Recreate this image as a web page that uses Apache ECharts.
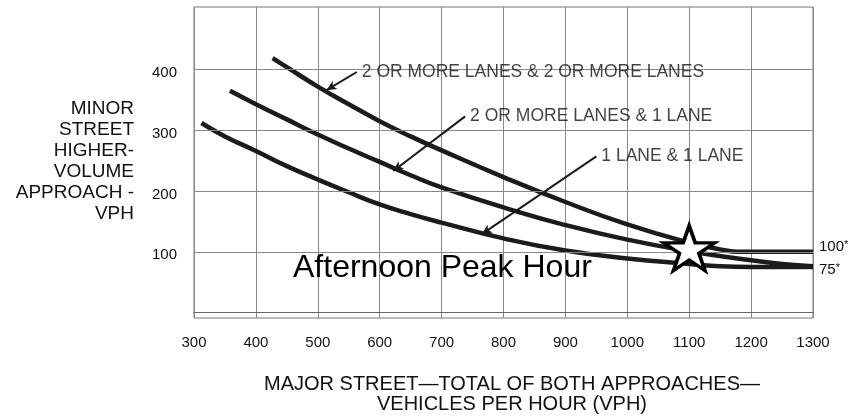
<!DOCTYPE html>
<html>
<head>
<meta charset="utf-8">
<script src="https://cdn.jsdelivr.net/npm/echarts@6/dist/echarts.min.js"></script>
<style>
  html, body { margin: 0; padding: 0; background: #fff; }
  #chart { width: 853px; height: 418px; }
</style>
</head>
<body>
<div id="chart"></div>
<script>
// Peak-hour warrant curves: major street total (vph) vs minor street higher-volume approach (vph)
const xTicks = [300, 400, 500, 600, 700, 800, 900, 1000, 1100, 1200, 1300];
const yTicks = [100, 200, 300, 400];

const twoOrMoreAndTwoOrMore = [
  [427, 419], [450, 404], [500, 372], [550, 343], [600, 315], [650, 290], [700, 267],
  [800, 223], [900, 182], [1000, 145], [1100, 115], [1150, 104], [1180, 100], [1250, 100], [1300, 100]
];
const twoOrMoreAndOne = [
  [358, 365], [400, 343], [450, 318], [500, 293], [550, 270], [600, 248], [650, 226],
  [700, 206], [800, 173], [900, 144], [1000, 120], [1100, 101], [1200, 86], [1250, 80], [1300, 76]
];
const oneAndOne = [
  [312, 312], [350, 290], [400, 266], [450, 241], [500, 219], [550, 198], [600, 178],
  [650, 162], [700, 148], [800, 122], [900, 102], [1000, 89], [1100, 80], [1150, 76], [1200, 75], [1300, 75]
];

// Studied afternoon peak-hour volume
const peakHourPoint = [[1100, 106]];

// Curve captions: text anchor (line start) and arrow tip on the curve
const captionNames = ['2 OR MORE LANES & 2 OR MORE LANES', '2 OR MORE LANES & 1 LANE', '1 LANE & 1 LANE'];
const captionAnchors = [[563, 396], [738, 323], [950, 257]];
const captionTips = [[514, 366], [622, 233], [765, 129]];

const FONT = '"Liberation Sans", Arial, Helvetica, sans-serif';
const INK = '#1b1b1b';
const TEXT = '#111';

const STAR = 'path://M50,0 L61.23,34.55 L97.55,34.55 L68.17,55.9 L79.39,90.45 L50,69.1 L20.61,90.45 L31.83,55.9 L2.45,34.55 L38.77,34.55 Z';

function curve(name, data, endText, endOffset) {
  return {
    name: name,
    type: 'line',
    data: data,
    smooth: 0.5,
    showSymbol: false,
    symbol: 'none',
    z: 4,
    lineStyle: { color: INK, width: 4.5 },
    endLabel: endText ? {
      show: true,
      formatter: endText,
      distance: 6,
      offset: endOffset,
      color: TEXT,
      fontFamily: FONT,
      fontSize: 15,
      rich: { s: { fontSize: 11, verticalAlign: 'top', lineHeight: 10, fontFamily: FONT, color: TEXT } }
    } : { show: false },
    silent: true
  };
}

const chart = echarts.init(document.getElementById('chart'), null, { renderer: 'canvas' });

chart.setOption({
  animation: false,
  backgroundColor: '#fff',
  grid: {
    left: 194, right: 40, top: 7, bottom: 100,
    show: true, borderColor: '#777', borderWidth: 1, backgroundColor: 'transparent'
  },
  xAxis: {
    type: 'value',
    min: xTicks[0],
    max: xTicks[xTicks.length - 1],
    interval: 100,
    axisLine: { show: true, lineStyle: { color: '#666', width: 1 } },
    axisTick: { show: false },
    axisLabel: { color: TEXT, fontFamily: FONT, fontSize: 15, margin: 17, formatter: v => String(v) },
    splitLine: { show: true, lineStyle: { color: '#888', width: 1 } }
  },
  yAxis: {
    type: 'value',
    min: -9,
    max: 503,
    axisLine: { show: true, lineStyle: { color: '#888', width: 1 } },
    axisTick: { show: false },
    splitLine: { show: false },
    axisLabel: {
      color: TEXT, fontFamily: FONT, fontSize: 15, margin: 17,
      verticalAlign: 'top', lineHeight: 7,
      formatter: v => (yTicks.indexOf(v) >= 0 ? String(v) : '')
    }
  },
  graphic: [
    {
      type: 'text',
      x: 134, y: 161,
      style: {
        text: 'MINOR\nSTREET\nHIGHER-\nVOLUME\nAPPROACH -\nVPH',
        align: 'right', verticalAlign: 'middle',
        font: '19px ' + FONT, lineHeight: 21, fill: TEXT
      }
    },
    {
      type: 'text',
      x: 512, y: 394,
      style: {
        text: 'MAJOR STREET\u2014TOTAL OF BOTH APPROACHES\u2014\nVEHICLES PER HOUR (VPH)',
        align: 'center', verticalAlign: 'middle',
        font: '20px ' + FONT, lineHeight: 20, fill: TEXT
      }
    },
    {
      type: 'text',
      x: 293, y: 268,
      z: 10,
      style: {
        text: 'Afternoon Peak Hour',
        align: 'left', verticalAlign: 'middle',
        font: '32px ' + FONT, fill: '#000'
      }
    }
  ],
  series: [
    {
      // horizontal reference lines at the labelled minor-street volumes
      type: 'line',
      data: [],
      z: 1,
      silent: true,
      markLine: {
        silent: true,
        symbol: 'none',
        animation: false,
        label: { show: false },
        lineStyle: { color: '#888', width: 1, type: 'solid' },
        data: yTicks.map(v => ({ yAxis: v }))
      }
    },
    curve('2 OR MORE LANES & 2 OR MORE LANES', twoOrMoreAndTwoOrMore, '100{s|*}', [0, -5]),
    curve('2 OR MORE LANES & 1 LANE', twoOrMoreAndOne, null, null),
    curve('1 LANE & 1 LANE', oneAndOne, '75{s|*}', [0, 3]),
    {
      // leader arrows from each caption to its curve
      type: 'line',
      data: [],
      z: 5,
      silent: true,
      markLine: {
        silent: true,
        animation: false,
        symbol: ['none', 'arrow'],
        symbolSize: [7, 10],
        label: { show: false },
        lineStyle: { color: INK, width: 2, type: 'solid' },
        data: captionAnchors.map((a, i) => [{ coord: a }, { coord: captionTips[i] }])
      }
    },
    {
      // caption texts
      type: 'scatter',
      data: captionAnchors.map((a, i) => ({ value: a, name: captionNames[i] })),
      symbolSize: 0,
      z: 6,
      silent: true,
      itemStyle: { color: 'transparent' },
      label: {
        show: true,
        position: 'right',
        distance: 5,
        formatter: p => p.name,
        color: TEXT,
        fontFamily: FONT,
        fontSize: 17.5
      }
    },
    {
      type: 'scatter',
      data: peakHourPoint,
      symbol: STAR,
      symbolSize: [51, 45],
      z: 8,
      zlevel: 1,
      silent: true,
      itemStyle: { color: '#ffffff', opacity: 1, borderColor: '#000', borderWidth: 3.5 }
    }
  ]
});
</script>
</body>
</html>
